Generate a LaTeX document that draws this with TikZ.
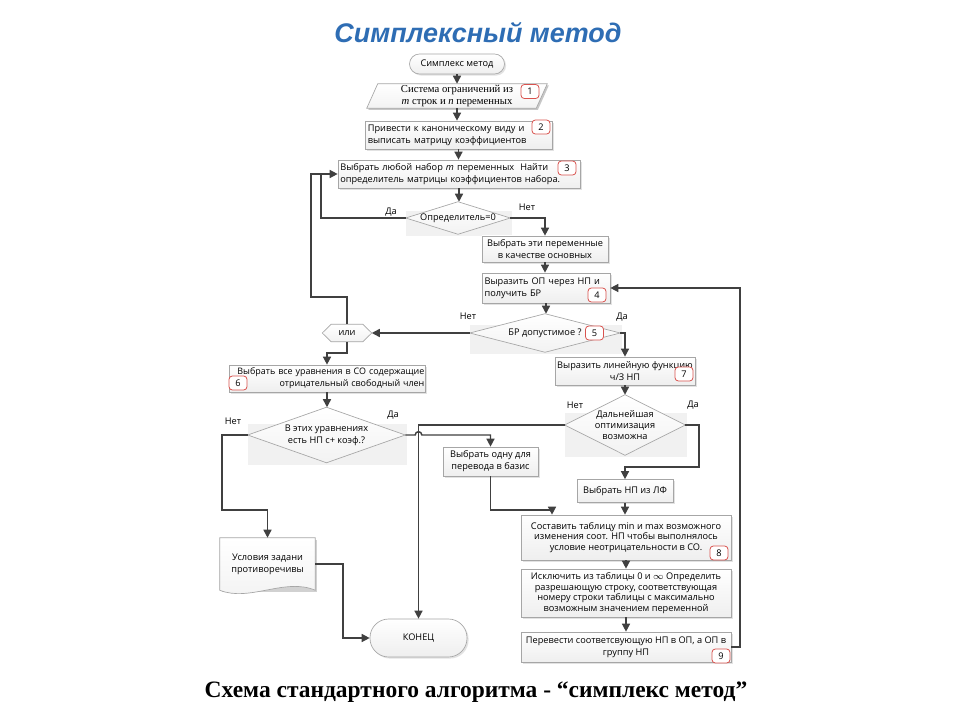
\documentclass[tikz,border=0pt]{standalone}
\usepackage{fontspec}
\setmainfont{Open Sans}
\newfontfamily\dfont{Open Sans}
\newfontfamily\serfont{Liberation Serif}
\newfontfamily\titfont{Liberation Sans}
\usetikzlibrary{arrows.meta,shadows,backgrounds,calc}
\definecolor{lineC}{HTML}{404040}
\definecolor{boxC}{HTML}{A6A6A6}
\definecolor{badgeC}{HTML}{D9534F}
\definecolor{titleC}{HTML}{2E6DB4}
\definecolor{shadeC}{HTML}{F1F1F1}
\begin{document}
\begin{tikzpicture}[x=0.75pt,y=-0.75pt,
  every node/.style={font=\dfont\fontsize{6.9}{9}\selectfont},
  box/.style={rectangle, draw=boxC, line width=0.5pt, top color=white, bottom color=gray!13,
    drop shadow={shadow xshift=1.2pt,shadow yshift=-1.2pt,fill=black!22}, inner sep=1.5pt, align=center},
  ghost/.style={rectangle, inner sep=0pt, align=center},
  badge/.style={rectangle, rounded corners=2.5pt, draw=badgeC, line width=0.6pt, fill=white,
    minimum width=13.5pt, minimum height=10.5pt, inner sep=0pt},
  lbl/.style={inner sep=0pt},
  arr/.style={draw=lineC, line width=1.1pt, -{Triangle[length=6pt,width=6pt]}},
  ln/.style={draw=lineC, line width=1.1pt},
  dshape/.style={draw=boxC, line width=0.5pt, top color=white, bottom color=gray!10},
  dshade/.style={fill=shadeC},
  tight/.style={font=\dfont\fontsize{6.9}{7.8}\selectfont},
]
\useasboundingbox (0,0) rectangle (960,720);

% title and caption
\node[font=\titfont\bfseries\itshape\fontsize{20.2}{23}\selectfont, text=titleC] (title) at (478,33) {Симплексный метод};
\node[font=\serfont\bfseries\fontsize{17.6}{21}\selectfont] (caption) at (476,692) {Схема стандартного алгоритма - “симплекс метод”};

% nodes
\node[box, rounded corners=7.5pt, minimum width=71.25pt, minimum height=15pt] (start) at (457,64) {Симплекс метод};
\node[ghost, minimum width=135pt, minimum height=18pt, font=\serfont\fontsize{8}{9}\selectfont] (p1) at (457,96) {Система ограничений из\\\textit{m} строк и \textit{n} переменных};
\node[box, minimum width=140.25pt, minimum height=21pt, text width=136pt, align=left] (b2) at (458.5,135) {Привести к каноническому виду и\\выписать матрицу коэффициентов};
\node[box, minimum width=181.5pt, minimum height=21pt, text width=178pt, align=left] (b3) at (459,174) {Выбрать любой набор \textit{m} переменных~ Найти\\определитель матрицы коэффициентов набора.};
\node[ghost, minimum width=78pt, minimum height=24pt] (d1) at (458,218) {Определитель=0};
\node[box, minimum width=94.5pt, minimum height=19.5pt] (b5) at (545,249) {Выбрать эти переменные\\в качестве основных};
\node[box, minimum width=96pt, minimum height=22.5pt, text width=92pt, align=left] (b4) at (546,288) {Выразить ОП через НП и\\получить БР};
\node[ghost, minimum width=112.5pt, minimum height=28.5pt] (d2) at (545,333) {БР допустимое ?};
\node[ghost, minimum width=36.75pt, minimum height=12.75pt] (hex) at (347,333) {или};
\node[box, minimum width=105pt, minimum height=21pt] (b7) at (625,371) {Выразить линейную функцию\\ч/З НП};
\node[ghost, minimum width=90pt, minimum height=45pt, font=\dfont\fontsize{6.9}{8.4}\selectfont] (d3) at (625,425) {Дальнейшая\\оптимизация\\возможна};
\node[box, minimum width=72pt, minimum height=17.25pt] (b8a) at (625,491) {Выбрать НП из ЛФ};
\node[box, tight, minimum width=157.5pt, minimum height=33.75pt] (b8) at (626,537.5) {Составить таблицу min и max возможного\\изменения соот. НП чтобы выполнялось\\условие неотрицательности в СО.};
\node[box, tight, minimum width=157.5pt, minimum height=36pt] (b8b) at (626,593) {Исключить из таблицы 0 и $\infty$ Определить\\разрешающую строку, соответствующая\\номеру строки таблицы с максимально\\возможным значением переменной};
\node[box, minimum width=157.5pt, minimum height=22.5pt] (b9) at (626,647) {Перевести соответсвующую НП в ОП, а ОП в\\группу НП};
\node[box, minimum width=147pt, minimum height=20.25pt, text width=146pt, inner sep=0.5pt, align=right, font=\dfont\fontsize{6.7}{9}\selectfont] (b6) at (327,378.5) {Выбрать все уравнения в СО содержащие\\отрицательный свободный член};
\node[ghost, minimum width=117.75pt, minimum height=41.25pt] (d4) at (326.5,435) {В этих уравнениях\\есть НП с+ коэф.?};
\node[box, minimum width=71.25pt, minimum height=21.75pt] (b10) at (490.5,461.5) {Выбрать одну для\\перевода в базис};
\node[ghost, minimum width=71.25pt, minimum height=39pt] (doc) at (267.5,564) {Условия задани\\противоречивы};
\node[box, rounded corners=14pt, minimum width=72.75pt, minimum height=28.5pt] (end) at (418.5,638) {КОНЕЦ};

% badges
\node[badge] (n1) at (530,91.5) {1};
\node[badge] (n2) at (541,127) {2};
\node[badge] (n3) at (567,168) {3};
\node[badge] (n4) at (597,295) {4};
\node[badge] (n5) at (594.5,333) {5};
\node[badge] (n6) at (238,383) {6};
\node[badge] (n7) at (684,374) {7};
\node[badge] (n8) at (719,553) {8};
\node[badge] (n9) at (721,656) {9};

% branch labels
\node[lbl] (l1) at (391,212) {Да};
\node[lbl] (l2) at (527,207) {Нет};
\node[lbl] (l3) at (468,316) {Нет};
\node[lbl] (l4) at (622,317) {Да};
\node[lbl] (l5) at (575,405) {Нет};
\node[lbl] (l6) at (693,405) {Да};
\node[lbl] (l7) at (233,421) {Нет};
\node[lbl] (l8) at (393,415) {Да};

% helper coordinates
\coordinate (cin) at (321,0);
\coordinate (cout) at (311,0);
\coordinate (t1) at (0,297);
\coordinate (k1) at (222,510);
\coordinate (m1) at (552,510);
\coordinate (m2) at (699,467);
\coordinate (m3) at (740,0);
\coordinate (m4) at (343,0);

% connectors
\draw[arr] (start) -- (start |- p1.north);
\draw[arr] (p1.south) -- (p1.south |- b2.north);
\draw[arr] (b2.south) -- (b2.south |- b3.north);
\draw[arr] (b3.south) -- (b3.south |- d1.north);
\draw[ln] (d1.west) -| (cin |- b3.west);
\draw[arr] (hex.north) |- (cout |- t1) -- (cout |- b3.west) -- (b3.west);
\draw[arr] (d1.east) -| (b5.north);
\draw[arr] (b5.south) -- (b5.south |- b4.north);
\draw[arr] (b4.south) -- (b4.south |- d2.north);
\draw[arr] (d2.west) -- (hex.east);
\draw[arr] (d2.east) -| (b7.north);
\draw[arr] (hex.south) -- ++(0,11) -| (b6.north);
\draw[arr] (b6.south) -- (b6.south |- d4.north);
\draw[arr] (d4.west) -| (k1) -| (doc.north);
\draw[arr] (d4.east) -- ([xshift=-2.5pt]d4.east -| end.north) arc[start angle=180, end angle=0, radius=2.5pt] -- (d4.east -| b10.north) -- (b10.north);
\draw[arr] (b10.south) |- (m1) -- (m1 |- b8.north);
\draw[arr] (b7.south) -- (b7.south |- d3.north);
\draw[arr] (d3.west) -| (end.north);
\draw[arr] (d3.east) -| (m2) -| (b8a.north);
\draw[arr] (b8a.south) -- (b8a.south |- b8.north);
\draw[arr] (b8.south) -- (b8.south |- b8b.north);
\draw[arr] (b8b.south) -- (b8b.south |- b9.north);
\draw[arr] (b9.east) -- (b9.east -| m3) -- (m3 |- b4.east) -- (b4.east);
\draw[arr] (doc.east) -- (doc.east -| m4) -- (m4 |- end.west) -- (end.west);

% shapes drawn behind
\begin{scope}[on background layer]
\fill[white] (0,0) rectangle (960,720);
\foreach \d in {d1,d2,d3,d4}{
  \fill[dshade] ($(\d.west)!0.4!(\d.north west)$) rectangle ([xshift=1.5pt,yshift=-1.5pt]\d.south east);
}
\foreach \d in {d1,d2,d3,d4}{
  \draw[dshape] (\d.north) -- (\d.east) -- (\d.south) -- (\d.west) -- cycle;
}
\fill[black!22] ([xshift=9.45pt,yshift=-1.2pt]p1.north west) -- ([xshift=1.2pt,yshift=-1.2pt]p1.north east) -- ([xshift=-7.05pt,yshift=-1.2pt]p1.south east) -- ([xshift=1.2pt,yshift=-1.2pt]p1.south west) -- cycle;
\draw[dshape] ([xshift=8.25pt]p1.north west) -- (p1.north east) -- ([xshift=-8.25pt]p1.south east) -- (p1.south west) -- cycle;
\draw[dshape] (hex.west) -- ([xshift=6.75pt]hex.north west) -- ([xshift=-6.75pt]hex.north east) -- (hex.east) -- ([xshift=-6.75pt]hex.south east) -- ([xshift=6.75pt]hex.south west) -- cycle;
\fill[black!18] ([xshift=1.5pt,yshift=-1.5pt]doc.north west) rectangle ([xshift=1.5pt,yshift=-1.5pt]doc.south east);
\draw[dshape] (doc.south west) -- (doc.north west) -- (doc.north east) -- (doc.south east)
  .. controls ($(doc.south east)+(-30,-13)$) and ($(doc.south west)+(30,12)$) .. (doc.south west) -- cycle;
\end{scope}
\end{tikzpicture}
\end{document}
